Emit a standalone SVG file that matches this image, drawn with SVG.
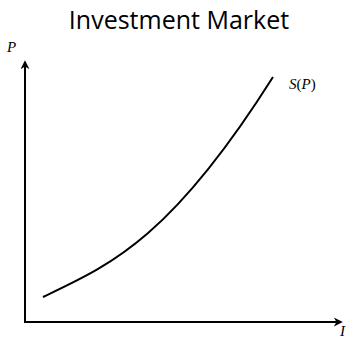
<svg xmlns="http://www.w3.org/2000/svg" width="350" height="338" viewBox="0 0 350 338">
<style>
.ax{stroke:#000;stroke-width:2;fill:none}
.lbl{font-family:"Liberation Serif",serif;font-size:15px;fill:#000}
.it{font-style:italic}
.title{font-family:"Open Sans","Liberation Sans",sans-serif;font-size:25px;fill:#000}
</style>
<defs>
<marker id="ah" viewBox="0 0 10 10" refX="8" refY="5" markerWidth="9" markerHeight="9" orient="auto" markerUnits="userSpaceOnUse">
<path d="M0,0 L10,5 L0,10 L3,5 Z" fill="#000"/>
</marker>
</defs>
<rect width="350" height="338" fill="#fff"/>
<text class="title" x="179" y="29" text-anchor="middle">Investment Market</text>
<g id="connectors">
<line class="ax" x1="25" y1="322" x2="25" y2="62" marker-end="url(#ah)"/>
<line class="ax" x1="24" y1="322" x2="341" y2="322" marker-end="url(#ah)"/>
</g>
<g id="curve">
<path class="ax" d="M43,297 C110,265 170,240 273,77"/>
<text class="lbl" x="289" y="89"><tspan class="it">S</tspan>(<tspan class="it">P</tspan>)</text>
</g>
<g id="axis-labels">
<text class="lbl it" x="7" y="52">P</text>
<text class="lbl it" x="340" y="336">I</text>
</g>
</svg>
